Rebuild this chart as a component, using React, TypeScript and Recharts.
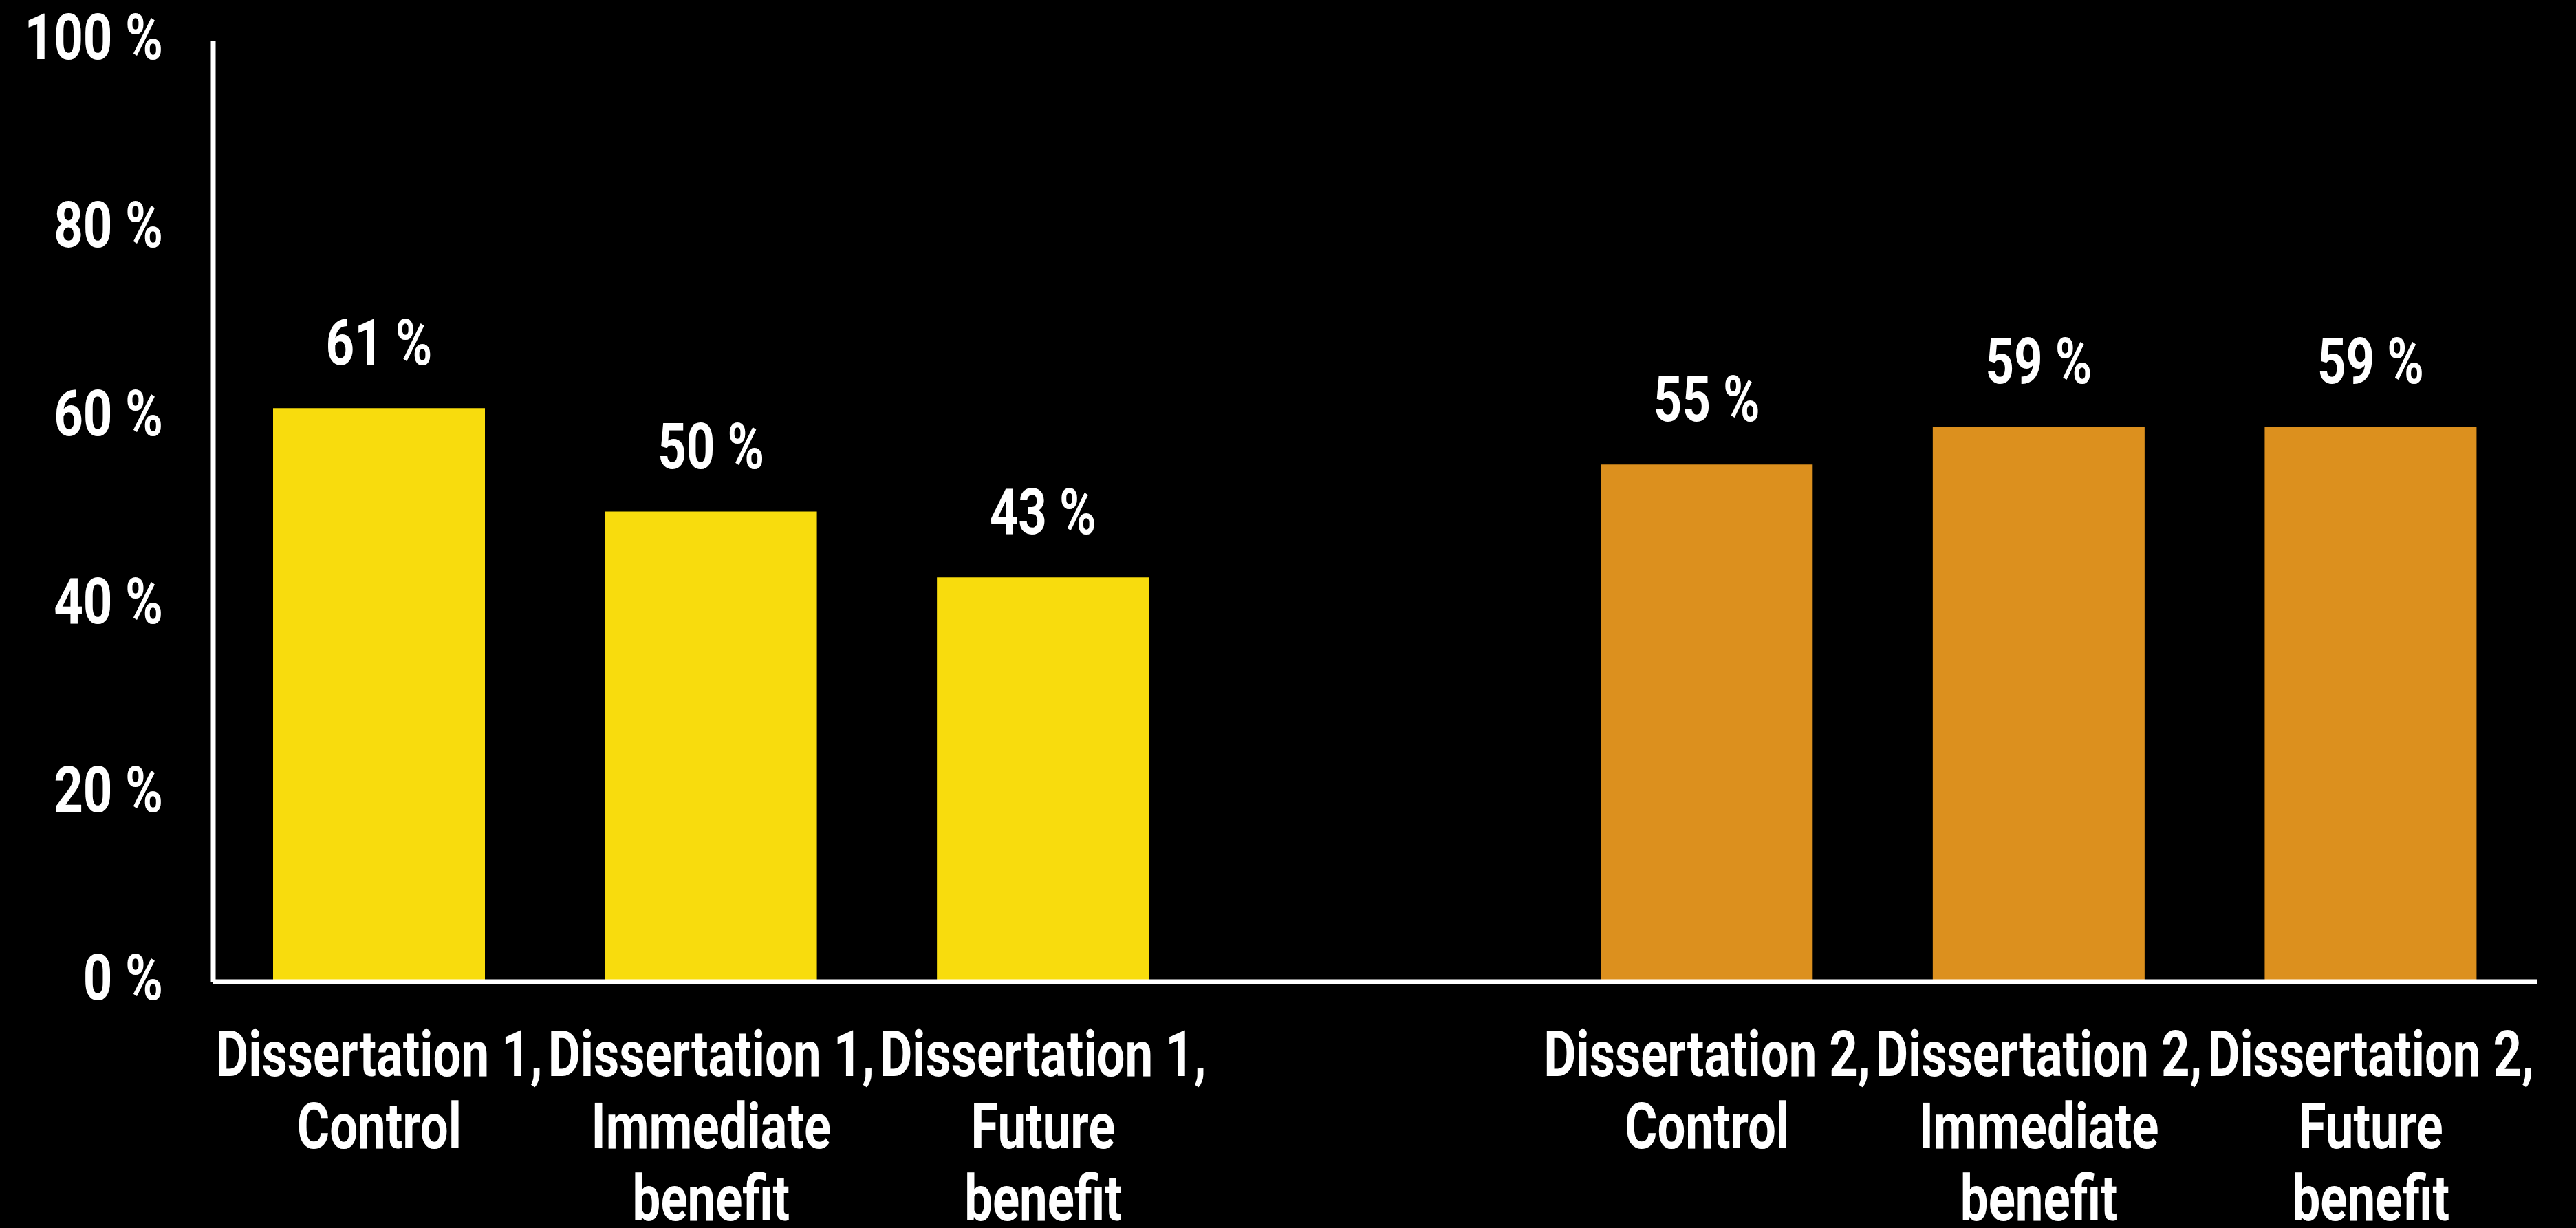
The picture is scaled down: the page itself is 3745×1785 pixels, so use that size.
import React from 'react';
import { BarChart, Bar, XAxis, YAxis, Cell, LabelList } from 'recharts';

const categories = [
  'Dissertation 1,\nControl',
  'Dissertation 1,\nImmediate\nbenefit',
  'Dissertation 1,\nFuture\nbenefit',
  '',
  'Dissertation 2,\nControl',
  'Dissertation 2,\nImmediate\nbenefit',
  'Dissertation 2,\nFuture\nbenefit',
];
const shares = [61, 50, 43, null, 55, 59, 59];
const yTicks = [0, 20, 40, 60, 80, 100];

const YELLOW = '#F8DC0D';
const ORANGE = '#DC901E';
const FONT = 'Roboto, "Liberation Sans", sans-serif';
const SQUEEZE = 0.78;

const data = categories.map((name, i) => ({ name, value: shares[i] }));

const colorFor = (name: string) => (name.startsWith('Dissertation 1') ? YELLOW : ORANGE);

function XTick(props: any) {
  const { x, y, payload } = props;
  const label: string = payload?.value ?? '';
  if (!label) return null;
  const lines = label.split('\n');
  return (
    <g transform={`translate(${x},${y}) scale(${SQUEEZE},1)`}>
      {lines.map((line, i) => (
        <text
          key={i}
          x={0}
          y={137 + i * 105}
          textAnchor="middle"
          fill="#fff"
          fontFamily={FONT}
          fontWeight={700}
          fontSize={93}
        >
          {line}
        </text>
      ))}
    </g>
  );
}

function YTick(props: any) {
  const { x, y, payload } = props;
  return (
    <g transform={`translate(${x},${y}) scale(${SQUEEZE + 0.02},1)`}>
      <text x={0} y={26} textAnchor="end" fill="#fff" fontFamily={FONT} fontWeight={700} fontSize={93}>
        {`${payload.value} %`}
      </text>
    </g>
  );
}

function ValueLabel(props: any) {
  const { x, y, width, value } = props;
  if (value == null) return null;
  return (
    <g transform={`translate(${x + width / 2},${y - 63}) scale(${SQUEEZE},1)`}>
      <text x={0} y={0} textAnchor="middle" fill="#fff" fontFamily={FONT} fontWeight={700} fontSize={93}>
        {`${value} %`}
      </text>
    </g>
  );
}

export default function App() {
  return (
    <div style={{ position: 'absolute', left: 0, top: 0, width: 3745, height: 1785, background: '#000' }}>
      <BarChart width={3745} height={1785} data={data} margin={{ top: 60, right: 57, bottom: 0, left: 0 }}>
        <XAxis
          dataKey="name"
          interval={0}
          height={358}
          tickLine={false}
          tickSize={0}
          tickMargin={0}
          axisLine={{ stroke: '#fff', strokeWidth: 7 }}
          tick={<XTick />}
        />
        <YAxis
          domain={[0, 100]}
          ticks={yTicks}
          width={310}
          tickLine={false}
          tickSize={0}
          tickMargin={73}
          axisLine={{ stroke: '#fff', strokeWidth: 7 }}
          tick={<YTick />}
        />
        <Bar dataKey="value" barSize={308} isAnimationActive={false}>
          {data.map((d, i) => (
            <Cell key={i} fill={colorFor(d.name)} />
          ))}
          <LabelList dataKey="value" content={<ValueLabel />} />
        </Bar>
      </BarChart>
    </div>
  );
}
